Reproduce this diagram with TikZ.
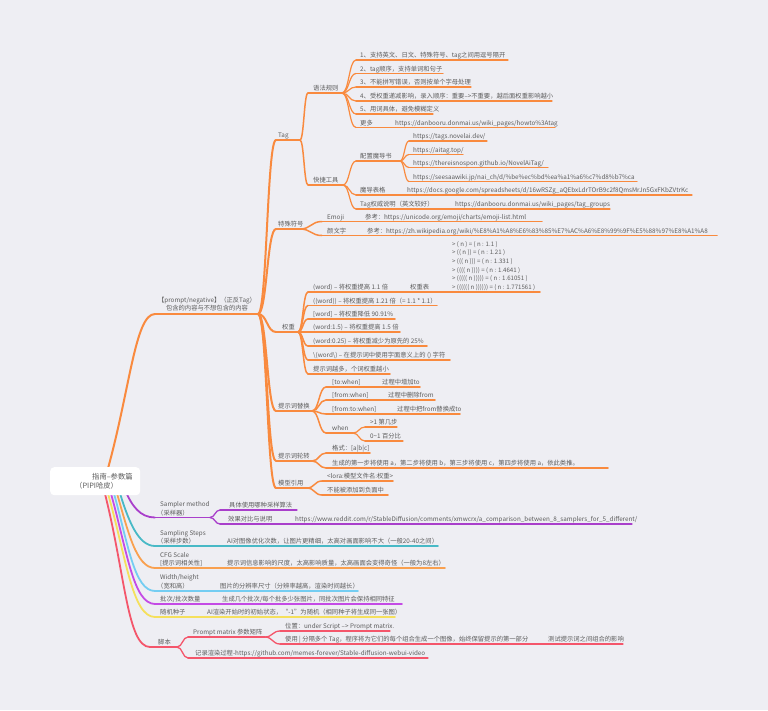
\documentclass[tikz,border=0pt]{standalone}
\usepackage{fontspec}
\setmainfont{Noto Sans CJK SC}
\usetikzlibrary{calc}
\definecolor{bg}{HTML}{EEEEF3}
\definecolor{txt}{HTML}{5C5C5C}
\definecolor{mor}{HTML}{F98A3E}
\definecolor{mpu}{HTML}{A93FCB}
\definecolor{mte}{HTML}{48B9C6}
\definecolor{mcf}{HTML}{F9A04F}
\definecolor{mlb}{HTML}{74CDF2}
\definecolor{mma}{HTML}{C44BE5}
\definecolor{mye}{HTML}{F5E05C}
\definecolor{mre}{HTML}{F4566B}
\newcommand\mmf{\fontsize{6.3}{8}\selectfont}
\newcommand\mmr{\fontsize{7.3}{9}\selectfont}
\newcommand\mms{\fontsize{6.1}{7}\selectfont}
\newcommand\mmL[5]{\coordinate (#1s) at (#3,#5); \coordinate (#1e) at (#4,#5); \draw[#2] (#1s) -- (#1e);}
\newcommand\mmC[3]{\path (#2) -- (#3) coordinate[pos=0.5] (mmid); \draw[#1] (#2) .. controls (mmid |- #2) and (mmid |- #3) .. (#3);}
\newcommand\mmT[4]{\node[lbl] (#1) at (#2,#3) {#4};}
\begin{document}
\begin{tikzpicture}[x=1pt,y=-1pt,
  lbl/.style={anchor=base west, inner sep=0pt, text=txt, font=\mmf},
  LA/.style={draw=mor, line width=2pt, line cap=round},
  LB/.style={draw=mor, line width=1.5pt, line cap=round},
  LC/.style={draw=mor, line width=1.2pt, line cap=round},
  PA/.style={draw=mpu, line width=1.8pt, line cap=round},
  PB/.style={draw=mpu, line width=1.3pt, line cap=round},
  TA/.style={draw=mte, line width=1.8pt, line cap=round},
  CA/.style={draw=mcf, line width=1.8pt, line cap=round},
  BA/.style={draw=mlb, line width=1.8pt, line cap=round},
  MA/.style={draw=mma, line width=1.8pt, line cap=round},
  YA/.style={draw=mye, line width=1.8pt, line cap=round},
  RA/.style={draw=mre, line width=1.8pt, line cap=round},
  RB/.style={draw=mre, line width=1.3pt, line cap=round}]
\fill[bg] (0,0) rectangle (768,710);
\useasboundingbox (0,0) rectangle (768,710);

% ===== main orange branch =====
\mmL{pn}{LA}{155}{258}{314}
\draw[LA] (107,472) .. controls (130,390) and (135,314) .. (pns);
\node[lbl, anchor=south, align=center] (pnt) at (207,311.5) {【prompt/negative】（正反Tag）\\包含的内容与不想包含的内容};

% Tag
\mmL{tag}{LA}{276}{300}{140} \mmC{LA}{pne}{tags}
\mmT{tagt}{278}{137.5}{Tag}
\mmL{gr}{LB}{308}{342}{93} \mmC{LB}{tage}{grs}
\mmT{grt}{313}{90.5}{语法规则}
\mmL{ga}{LC}{356}{508}{60} \mmC{LC}{gre}{gas}
\mmT{gat}{360}{57.5}{1、支持英文、日文、特殊符号、tag之间用逗号隔开}
\mmL{gb}{LC}{356}{443}{73.5} \mmC{LC}{gre}{gbs}
\mmT{gbt}{360}{71}{2、tag顺序，支持单词和句子}
\mmL{gc}{LC}{356}{471}{87} \mmC{LC}{gre}{gcs}
\mmT{gct}{360}{84.5}{3、不能拼写错误，否则按单个字母处理}
\mmL{gd}{LC}{356}{552}{101} \mmC{LC}{gre}{gds}
\mmT{gdt}{360}{98.5}{4、受权重递减影响，录入顺序：重要–>不重要，越后面权重影响越小}
\mmL{ge}{LC}{356}{433}{114} \mmC{LC}{gre}{ges}
\mmT{get}{360}{111.5}{5、用词具体，避免模糊定义}
\mmL{gf}{LC}{356}{555}{127.5} \mmC{LC}{gre}{gfs}
\mmT{gft}{360}{125}{更多}
\mmT{gfu}{395}{125}{https://danbooru.donmai.us/wiki\_pages/howto\%3Atag}

\mmL{kj}{LB}{308}{343}{185} \mmC{LB}{tage}{kjs}
\mmT{kjt}{313}{182.5}{快捷工具}
\mmL{pz}{LC}{356}{400}{161} \mmC{LC}{kje}{pzs}
\mmT{pzt}{360}{158.5}{配置魔导书}
\mmL{ua}{LC}{409}{487}{141} \mmC{LC}{pze}{uas}
\mmT{uat}{413}{138.5}{https://tags.novelai.dev/}
\mmL{ub}{LC}{409}{463}{154.5} \mmC{LC}{pze}{ubs}
\mmT{ubt}{413}{152}{https://aitag.top/}
\mmL{uc}{LC}{409}{548}{167.5} \mmC{LC}{pze}{ucs}
\mmT{uct}{413}{165}{https://thereisnospon.github.io/NovelAiTag/}
\mmL{ud}{LC}{409}{637}{181.5} \mmC{LC}{pze}{uds}
\mmT{udt}{413}{179}{https://seesaawiki.jp/nai\_ch/d/\%be\%ec\%bd\%ea\%a1\%a6\%c7\%d8\%b7\%ca}
\mmL{md}{LC}{356}{692}{195} \mmC{LC}{kje}{mds}
\mmT{mdt}{360}{192.5}{魔导表格}
\mmT{mdu}{407}{192.5}{https://docs.google.com/spreadsheets/d/16wRSZg\_aQEbxLdrTOrB9c2f8QmsMrJn5GxFKbZVtrKc}
\mmL{tq}{LC}{356}{610}{209} \mmC{LC}{kje}{tqs}
\mmT{tqt}{360}{206.5}{Tag权威说明（英文较好）}
\mmT{tqu}{455}{206.5}{https://danbooru.donmai.us/wiki\_pages/tag\_groups}

% 特殊符号
\mmL{ts}{LA}{276}{300}{229} \mmC{LA}{pne}{tss}
\mmT{tst}{278}{226.5}{特殊符号}
\mmL{em}{LB}{322}{542}{221.5} \mmC{LB}{tse}{ems}
\mmT{emt}{327}{219}{Emoji}
\mmT{emu}{365}{219}{参考：https://unicode.org/emoji/charts/emoji-list.html}
\mmL{yw}{LB}{322}{717}{235.5} \mmC{LB}{tse}{yws}
\mmT{ywt}{327}{233}{颜文字}
\mmT{ywu}{367}{233}{参考：https://zh.wikipedia.org/wiki/\%E8\%A1\%A8\%E6\%83\%85\%E7\%AC\%A6\%E8\%99\%9F\%E5\%88\%97\%E8\%A1\%A8}

% 权重
\mmL{qz}{LA}{276}{298}{332} \mmC{LA}{pne}{qzs}
\mmT{qzt}{282}{329.5}{权重}
\mmL{wa}{LB}{308}{540}{292} \mmC{LB}{qze}{was}
\mmT{wat}{313}{289.5}{(word) – 将权重提高 1.1 倍}
\mmT{wab}{410}{289.5}{权重表}
\node[lbl, font=\mms] (tb1) at (452,246.3) {> ( n ) = ( n : 1.1 )};
\node[lbl, font=\mms] (tb2) at (452,254.6) {> (( n )) = ( n : 1.21 )};
\node[lbl, font=\mms] (tb3) at (452,263.3) {> ((( n ))) = ( n : 1.331 )};
\node[lbl, font=\mms] (tb4) at (452,272) {> (((( n )))) = ( n : 1.4641 )};
\node[lbl, font=\mms] (tb5) at (452,280.5) {> ((((( n ))))) = ( n : 1.61051 )};
\node[lbl, font=\mms] (tb6) at (452,289.3) {> (((((( n )))))) = ( n : 1.771561 )};
\mmL{wb}{LB}{308}{437}{305.5} \mmC{LB}{qze}{wbs}
\mmT{wbt}{313}{303}{((word)) – 将权重提高 1.21 倍（= 1.1 * 1.1）}
\mmL{wc}{LB}{308}{395}{319} \mmC{LB}{qze}{wcs}
\mmT{wct}{313}{316.5}{[word] – 将权重降低 90.91\%}
\mmL{wd}{LB}{308}{400}{332} \mmC{LB}{qze}{wds}
\mmT{wdt}{313}{329.5}{(word:1.5) – 将权重提高 1.5 倍}
\mmL{we}{LB}{308}{427}{346} \mmC{LB}{qze}{wes}
\mmT{wet}{313}{343.5}{(word:0.25) – 将权重减少为原先的 25\%}
\mmL{wf}{LB}{308}{450}{360} \mmC{LB}{qze}{wfs}
\mmT{wft}{313}{357.5}{\textbackslash(word\textbackslash) – 在提示词中使用字面意义上的 () 字符}
\mmL{wg}{LB}{308}{390}{374} \mmC{LB}{qze}{wgs}
\mmT{wgt}{313}{371.5}{提示词越多，个词权重越小}

% 提示词替换
\mmL{th}{LA}{276}{312}{411} \mmC{LA}{pne}{ths}
\mmT{tht}{278}{408.5}{提示词替换}
\mmL{ra}{LB}{326}{420}{387} \mmC{LB}{the}{ras}
\mmT{rat}{332}{384.5}{[to:when]}
\mmT{rau}{382}{384.5}{过程中增加to}
\mmL{rb}{LB}{326}{435}{400} \mmC{LB}{the}{rbs}
\mmT{rbt}{332}{397.5}{[from:when]}
\mmT{rbu}{388}{397.5}{过程中删除from}
\mmL{rc}{LB}{326}{460}{414} \mmC{LB}{the}{rcs}
\mmT{rct}{332}{411.5}{[from:to:when]}
\mmT{rcu}{397}{411.5}{过程中把from替换成to}
\mmL{wh}{LB}{326}{353}{433} \mmC{LB}{the}{whs}
\mmT{wht}{332}{430.5}{when}
\mmL{ha}{LC}{365}{397}{427} \mmC{LC}{whe}{has}
\mmT{hat}{370}{424.5}{>1 第几步}
\mmL{hb}{LC}{365}{403}{441} \mmC{LC}{whe}{hbs}
\mmT{hbt}{370}{438.5}{0\textasciitilde1 百分比}

% 提示词轮转
\mmL{lz}{LA}{276}{312}{461} \mmC{LA}{pne}{lzs}
\mmT{lzt}{278}{458.5}{提示词轮转}
\mmL{la}{LB}{326}{370}{453} \mmC{LB}{lze}{las}
\mmT{lat}{332}{450.5}{格式：[a|b|c]}
\mmL{lb}{LB}{326}{608}{468} \mmC{LB}{lze}{lbs}
\mmT{lbt}{332}{465.5}{生成的第一步将使用 a，第二步将使用 b，第三步将使用 c，第四步将使用 a，依此类推。}

% 模型引用
\mmL{mx}{LA}{276}{307}{488} \mmC{LA}{pne}{mxs}
\mmT{mxt}{278}{485.5}{模型引用}
\mmL{ma}{LB}{322}{393}{481} \mmC{LB}{mxe}{mas}
\mmT{mat}{327}{478.5}{<lora:模型文件名:权重>}
\mmL{mb}{LB}{322}{388}{495} \mmC{LB}{mxe}{mbs}
\mmT{mbt}{327}{492.5}{不能被添加到负面中}

% ===== coloured branches =====
% Sampler
\mmL{sm}{PA}{155}{210}{517.5}
\draw[PA] (125,490) .. controls (132,506) and (140,517.5) .. (sms);
\mmT{smt}{160}{506}{Sampler method}
\mmT{smu}{157}{515}{（采样器）}
\mmL{sa}{PB}{220}{297}{510} \mmC{PB}{sme}{sas}
\mmT{sat}{229}{507.5}{具体使用哪种采样算法}
\mmL{sb}{PB}{220}{632}{524} \mmC{PB}{sme}{sbs}
\mmT{sbt}{228}{521.5}{效果对比与说明}
\mmT{sbu}{295}{521.5}{https://www.reddit.com/r/StableDiffusion/comments/xmwcrx/a\_comparison\_between\_8\_samplers\_for\_5\_different/}

% Steps
\mmL{st}{TA}{155}{438}{546}
\draw[TA] (119,490) .. controls (128,520) and (138,546) .. (sts);
\mmT{stt}{160}{535}{Sampling Steps}
\mmT{stu}{157}{543.5}{（采样步数）}
\mmT{stc}{227}{543.5}{AI对图像优化次数，让图片更精细，太高对画面影响不大（一般20-40之间）}

% CFG
\mmL{cf}{CA}{155}{445}{568}
\draw[CA] (116,490) .. controls (128,531) and (136,568) .. (cfs);
\mmT{cft}{160}{557}{CFG Scale}
\mmT{cfu}{160}{565.5}{[提示词相关性]}
\mmT{cfc}{227}{565.5}{提示词信息影响的尺度，太高影响质量，太高画面会变得奇怪（一般为8左右）}

% Width
\mmL{wi}{BA}{155}{358}{591}
\draw[BA] (113,490) .. controls (128,543) and (134,591) .. (wis);
\mmT{wit}{160}{579.5}{Width/height}
\mmT{wiu}{157}{588.5}{（宽和高）}
\mmT{wic}{220}{588.5}{图片的分辨率尺寸（分辨率越高，渲染时间越长）}

% batch
\mmL{pc}{MA}{155}{402}{604}
\draw[MA] (110,490) .. controls (127,550) and (133,604) .. (pcs);
\mmT{pct}{160}{601.5}{批次/批次数量}
\mmT{pcc}{222}{601.5}{生成几个批次/每个批多少张图片，同批次图片会保持相同特征}

% seed
\mmL{sj}{YA}{155}{395}{617}
\draw[YA] (107,490) .. controls (126,556) and (132,617) .. (sjs);
\mmT{sjt}{160}{614.5}{随机种子}
\mmT{sjc}{207}{614.5}{AI渲染开始时的初始状态，“-1”为随机（相同种子将生成同一张图）}

% script
\mmL{jb}{RA}{150}{177}{647}
\draw[RA] (104,490) .. controls (125,571) and (127,647) .. (jbs);
\mmT{jbt}{158}{644.5}{脚本}
\mmL{pm}{RB}{188}{265}{637} \mmC{RB}{jbe}{pms}
\mmT{pmt}{193}{634.5}{Prompt matrix 参数矩阵}
\mmL{pa}{RB}{280}{390}{631} \mmC{RB}{pme}{pas}
\mmT{pat}{285}{628.5}{位置：under Script –> Prompt matrix.}
\mmL{pb}{RB}{280}{623}{644} \mmC{RB}{pme}{pbs}
\mmT{pbt}{285}{641.5}{使用 | 分隔多个 Tag，程序将为它们的每个组合生成一个图像，始终保留提示的第一部分}
\mmT{pbu}{548}{641.5}{测试提示词之间组合的影响}
\mmL{jl}{RB}{188}{428}{658} \mmC{RB}{jbe}{jls}
\mmT{jlt}{195}{655.5}{记录渲染过程-https://github.com/memes-forever/Stable-diffusion-webui-video}

% ===== root =====
\node[fill=white, rounded corners=4pt, minimum width=90pt, minimum height=28pt, anchor=north west, inner sep=0pt] (root) at (50,467) {};
\node[lbl, font=\mmr] (rt1) at (92,479) {指南–参数篇};
\node[lbl, font=\mmr] (rt2) at (75,488) {（PIPI哈皮）};
\end{tikzpicture}
\end{document}
